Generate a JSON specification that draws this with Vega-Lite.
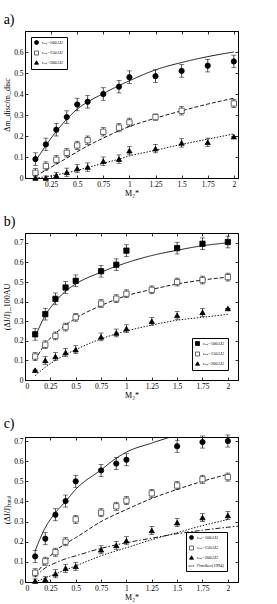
{
"$schema": "https://vega.github.io/schema/vega-lite/v6.json",
"padding": {"left": 3, "top": 12, "right": 2, "bottom": 2},
"spacing": 16,
"datasets": {
"pa": [
{"M":0.1,"v":0.09,"e":0.03,"s":"s1"},{"M":0.2,"v":0.16,"e":0.03,"s":"s1"},{"M":0.3,"v":0.23,"e":0.03,"s":"s1"},{"M":0.4,"v":0.29,"e":0.03,"s":"s1"},{"M":0.5,"v":0.35,"e":0.03,"s":"s1"},{"M":0.6,"v":0.363,"e":0.03,"s":"s1"},{"M":0.75,"v":0.40,"e":0.03,"s":"s1"},{"M":0.9,"v":0.435,"e":0.03,"s":"s1"},{"M":1,"v":0.48,"e":0.03,"s":"s1"},{"M":1.25,"v":0.485,"e":0.03,"s":"s1"},{"M":1.5,"v":0.51,"e":0.03,"s":"s1"},{"M":1.75,"v":0.535,"e":0.03,"s":"s1"},{"M":2,"v":0.555,"e":0.03,"s":"s1"},
{"M":0.1,"v":0.025,"e":0.02,"s":"s2"},{"M":0.2,"v":0.057,"e":0.02,"s":"s2"},{"M":0.3,"v":0.087,"e":0.02,"s":"s2"},{"M":0.4,"v":0.12,"e":0.02,"s":"s2"},{"M":0.5,"v":0.155,"e":0.02,"s":"s2"},{"M":0.6,"v":0.18,"e":0.02,"s":"s2"},{"M":0.75,"v":0.22,"e":0.02,"s":"s2"},{"M":0.9,"v":0.24,"e":0.02,"s":"s2"},{"M":1,"v":0.265,"e":0.02,"s":"s2"},{"M":1.25,"v":0.29,"e":0.015,"s":"s2"},{"M":1.5,"v":0.32,"e":0.02,"s":"s2"},{"M":2,"v":0.355,"e":0.02,"s":"s2"},
{"M":0.1,"v":0.0,"e":0.01,"s":"s3"},{"M":0.2,"v":0.0,"e":0.01,"s":"s3"},{"M":0.3,"v":0.012,"e":0.015,"s":"s3"},{"M":0.4,"v":0.027,"e":0.02,"s":"s3"},{"M":0.5,"v":0.045,"e":0.02,"s":"s3"},{"M":0.6,"v":0.052,"e":0.02,"s":"s3"},{"M":0.75,"v":0.08,"e":0.02,"s":"s3"},{"M":0.9,"v":0.09,"e":0.02,"s":"s3"},{"M":1,"v":0.13,"e":0.02,"s":"s3"},{"M":1.25,"v":0.14,"e":0.02,"s":"s3"},{"M":1.5,"v":0.167,"e":0.02,"s":"s3"},{"M":1.75,"v":0.17,"e":0.02,"s":"s3"},{"M":2,"v":0.197,"e":0.0,"s":"s3"}
],
"ca": [
{"M":0.1,"v":0.08,"s":"s1"},{"M":0.2,"v":0.155,"s":"s1"},{"M":0.3,"v":0.222,"s":"s1"},{"M":0.4,"v":0.28,"s":"s1"},{"M":0.5,"v":0.328,"s":"s1"},{"M":0.6,"v":0.362,"s":"s1"},{"M":0.75,"v":0.402,"s":"s1"},{"M":0.9,"v":0.44,"s":"s1"},{"M":1,"v":0.463,"s":"s1"},{"M":1.25,"v":0.515,"s":"s1"},{"M":1.5,"v":0.55,"s":"s1"},{"M":1.75,"v":0.578,"s":"s1"},{"M":2,"v":0.6,"s":"s1"},
{"M":0.1,"v":0.01,"s":"s2"},{"M":0.2,"v":0.037,"s":"s2"},{"M":0.3,"v":0.066,"s":"s2"},{"M":0.4,"v":0.095,"s":"s2"},{"M":0.5,"v":0.125,"s":"s2"},{"M":0.6,"v":0.153,"s":"s2"},{"M":0.75,"v":0.19,"s":"s2"},{"M":0.9,"v":0.225,"s":"s2"},{"M":1,"v":0.245,"s":"s2"},{"M":1.25,"v":0.285,"s":"s2"},{"M":1.5,"v":0.32,"s":"s2"},{"M":1.75,"v":0.352,"s":"s2"},{"M":2,"v":0.38,"s":"s2"},
{"M":0.1,"v":0.0,"s":"s3"},{"M":0.2,"v":0.006,"s":"s3"},{"M":0.3,"v":0.015,"s":"s3"},{"M":0.4,"v":0.025,"s":"s3"},{"M":0.5,"v":0.036,"s":"s3"},{"M":0.6,"v":0.05,"s":"s3"},{"M":0.75,"v":0.07,"s":"s3"},{"M":0.9,"v":0.09,"s":"s3"},{"M":1,"v":0.105,"s":"s3"},{"M":1.25,"v":0.132,"s":"s3"},{"M":1.5,"v":0.16,"s":"s3"},{"M":1.75,"v":0.185,"s":"s3"},{"M":2,"v":0.21,"s":"s3"}
],
"pb": [
{"M":0.1,"v":0.233,"e":0.03,"s":"b1"},{"M":0.2,"v":0.336,"e":0.03,"s":"b1"},{"M":0.3,"v":0.414,"e":0.03,"s":"b1"},{"M":0.4,"v":0.472,"e":0.03,"s":"b1"},{"M":0.5,"v":0.506,"e":0.03,"s":"b1"},{"M":0.75,"v":0.555,"e":0.03,"s":"b1"},{"M":0.9,"v":0.588,"e":0.03,"s":"b1"},{"M":1,"v":0.66,"e":0.03,"s":"b1"},{"M":1.5,"v":0.673,"e":0.03,"s":"b1"},{"M":1.75,"v":0.695,"e":0.03,"s":"b1"},{"M":2,"v":0.704,"e":0.03,"s":"b1"},
{"M":0.1,"v":0.12,"e":0.02,"s":"s2"},{"M":0.2,"v":0.18,"e":0.02,"s":"s2"},{"M":0.3,"v":0.225,"e":0.02,"s":"s2"},{"M":0.4,"v":0.27,"e":0.02,"s":"s2"},{"M":0.5,"v":0.32,"e":0.02,"s":"s2"},{"M":0.75,"v":0.39,"e":0.02,"s":"s2"},{"M":0.9,"v":0.415,"e":0.02,"s":"s2"},{"M":1,"v":0.44,"e":0.02,"s":"s2"},{"M":1.25,"v":0.46,"e":0.02,"s":"s2"},{"M":1.5,"v":0.50,"e":0.02,"s":"s2"},{"M":1.75,"v":0.51,"e":0.02,"s":"s2"},{"M":2,"v":0.525,"e":0.02,"s":"s2"},
{"M":0.1,"v":0.05,"e":0.0,"s":"s3"},{"M":0.2,"v":0.10,"e":0.02,"s":"s3"},{"M":0.3,"v":0.12,"e":0.02,"s":"s3"},{"M":0.4,"v":0.14,"e":0.02,"s":"s3"},{"M":0.5,"v":0.155,"e":0.02,"s":"s3"},{"M":0.75,"v":0.22,"e":0.02,"s":"s3"},{"M":0.9,"v":0.24,"e":0.02,"s":"s3"},{"M":1,"v":0.262,"e":0.02,"s":"s3"},{"M":1.25,"v":0.30,"e":0.02,"s":"s3"},{"M":1.5,"v":0.33,"e":0.02,"s":"s3"},{"M":1.75,"v":0.345,"e":0.02,"s":"s3"},{"M":2,"v":0.365,"e":0.0,"s":"s3"}
],
"cb": [
{"M":0.1,"v":0.22,"s":"s1"},{"M":0.2,"v":0.33,"s":"s1"},{"M":0.3,"v":0.40,"s":"s1"},{"M":0.4,"v":0.453,"s":"s1"},{"M":0.5,"v":0.49,"s":"s1"},{"M":0.75,"v":0.55,"s":"s1"},{"M":1,"v":0.598,"s":"s1"},{"M":1.25,"v":0.635,"s":"s1"},{"M":1.5,"v":0.662,"s":"s1"},{"M":1.75,"v":0.685,"s":"s1"},{"M":2,"v":0.70,"s":"s1"},
{"M":0.1,"v":0.10,"s":"s2"},{"M":0.2,"v":0.185,"s":"s2"},{"M":0.3,"v":0.237,"s":"s2"},{"M":0.4,"v":0.28,"s":"s2"},{"M":0.5,"v":0.315,"s":"s2"},{"M":0.75,"v":0.38,"s":"s2"},{"M":1,"v":0.43,"s":"s2"},{"M":1.25,"v":0.462,"s":"s2"},{"M":1.5,"v":0.49,"s":"s2"},{"M":1.75,"v":0.51,"s":"s2"},{"M":2,"v":0.525,"s":"s2"},
{"M":0.1,"v":0.022,"s":"s3"},{"M":0.2,"v":0.065,"s":"s3"},{"M":0.3,"v":0.10,"s":"s3"},{"M":0.4,"v":0.13,"s":"s3"},{"M":0.5,"v":0.155,"s":"s3"},{"M":0.75,"v":0.21,"s":"s3"},{"M":1,"v":0.25,"s":"s3"},{"M":1.25,"v":0.28,"s":"s3"},{"M":1.5,"v":0.305,"s":"s3"},{"M":1.75,"v":0.32,"s":"s3"},{"M":2,"v":0.335,"s":"s3"}
],
"pc": [
{"M":0.1,"v":0.127,"e":0.03,"s":"s1"},{"M":0.2,"v":0.215,"e":0.03,"s":"s1"},{"M":0.3,"v":0.334,"e":0.03,"s":"s1"},{"M":0.4,"v":0.402,"e":0.03,"s":"s1"},{"M":0.5,"v":0.50,"e":0.03,"s":"s1"},{"M":0.75,"v":0.554,"e":0.03,"s":"s1"},{"M":0.9,"v":0.588,"e":0.03,"s":"s1"},{"M":1,"v":0.607,"e":0.03,"s":"s1"},{"M":1.5,"v":0.674,"e":0.03,"s":"s1"},{"M":1.75,"v":0.695,"e":0.03,"s":"s1"},{"M":2,"v":0.70,"e":0.03,"s":"s1"},
{"M":0.1,"v":0.046,"e":0.02,"s":"s2"},{"M":0.2,"v":0.103,"e":0.02,"s":"s2"},{"M":0.3,"v":0.148,"e":0.02,"s":"s2"},{"M":0.4,"v":0.20,"e":0.02,"s":"s2"},{"M":0.5,"v":0.311,"e":0.02,"s":"s2"},{"M":0.75,"v":0.344,"e":0.02,"s":"s2"},{"M":0.9,"v":0.376,"e":0.02,"s":"s2"},{"M":1,"v":0.404,"e":0.02,"s":"s2"},{"M":1.25,"v":0.44,"e":0.02,"s":"s2"},{"M":1.5,"v":0.479,"e":0.02,"s":"s2"},{"M":1.75,"v":0.51,"e":0.02,"s":"s2"},{"M":2,"v":0.521,"e":0.02,"s":"s2"},
{"M":0.1,"v":0.005,"e":0.01,"s":"s3"},{"M":0.2,"v":0.013,"e":0.015,"s":"s3"},{"M":0.3,"v":0.041,"e":0.02,"s":"s3"},{"M":0.4,"v":0.068,"e":0.02,"s":"s3"},{"M":0.5,"v":0.078,"e":0.02,"s":"s3"},{"M":0.75,"v":0.16,"e":0.02,"s":"s3"},{"M":0.9,"v":0.182,"e":0.02,"s":"s3"},{"M":1,"v":0.205,"e":0.02,"s":"s3"},{"M":1.25,"v":0.256,"e":0.02,"s":"s3"},{"M":1.5,"v":0.295,"e":0.02,"s":"s3"},{"M":1.75,"v":0.32,"e":0.02,"s":"s3"},{"M":2,"v":0.33,"e":0.02,"s":"s3"}
],
"cc": [
{"M":0.1,"v":0.155,"s":"s1"},{"M":0.2,"v":0.27,"s":"s1"},{"M":0.3,"v":0.344,"s":"s1"},{"M":0.4,"v":0.40,"s":"s1"},{"M":0.5,"v":0.46,"s":"s1"},{"M":0.75,"v":0.557,"s":"s1"},{"M":0.9,"v":0.615,"s":"s1"},{"M":1,"v":0.645,"s":"s1"},{"M":1.25,"v":0.69,"s":"s1"},{"M":1.5,"v":0.73,"s":"s1"},
{"M":0.1,"v":0.035,"s":"s2"},{"M":0.2,"v":0.10,"s":"s2"},{"M":0.3,"v":0.155,"s":"s2"},{"M":0.4,"v":0.19,"s":"s2"},{"M":0.5,"v":0.22,"s":"s2"},{"M":0.75,"v":0.30,"s":"s2"},{"M":1,"v":0.36,"s":"s2"},{"M":1.25,"v":0.415,"s":"s2"},{"M":1.5,"v":0.46,"s":"s2"},{"M":1.75,"v":0.50,"s":"s2"},{"M":2,"v":0.535,"s":"s2"},
{"M":0.1,"v":0.0,"s":"s3"},{"M":0.2,"v":0.02,"s":"s3"},{"M":0.3,"v":0.04,"s":"s3"},{"M":0.4,"v":0.06,"s":"s3"},{"M":0.5,"v":0.08,"s":"s3"},{"M":0.75,"v":0.13,"s":"s3"},{"M":1,"v":0.17,"s":"s3"},{"M":1.25,"v":0.21,"s":"s3"},{"M":1.5,"v":0.245,"s":"s3"},{"M":1.75,"v":0.28,"s":"s3"},{"M":2,"v":0.31,"s":"s3"},
{"M":0.1,"v":0.025,"s":"s4"},{"M":0.2,"v":0.07,"s":"s4"},{"M":0.3,"v":0.095,"s":"s4"},{"M":0.4,"v":0.115,"s":"s4"},{"M":0.5,"v":0.13,"s":"s4"},{"M":0.75,"v":0.167,"s":"s4"},{"M":1,"v":0.195,"s":"s4"},{"M":1.25,"v":0.218,"s":"s4"},{"M":1.5,"v":0.24,"s":"s4"},{"M":1.75,"v":0.257,"s":"s4"},{"M":2,"v":0.272,"s":"s4"},{"M":2.1,"v":0.277,"s":"s4"}
]
},
"vconcat": [
{
"title": {"text": "a)"},
"width": 213, "height": 147,
"resolve": {"axis": {"x": "independent", "y": "independent"}},
"layer": [
{"data": {"name": "ca"}, "mark": {"type": "line", "color": "black", "strokeWidth": 0.9, "interpolate": "monotone", "clip": true},
 "encoding": {
  "x": {"field": "M", "type": "quantitative", "scale": {"domain": [0, 2.04], "nice": false}, "axis": {"values": [0.25,0.5,0.75,1,1.25,1.5,1.75,2], "title": "M₂*"}},
  "y": {"field": "v", "type": "quantitative", "scale": {"domain": [0, 0.7], "nice": false}, "axis": {"values": [0,0.1,0.2,0.3,0.4,0.5,0.6], "title": "Δm_disc/m_disc"}},
  "strokeDash": {"field": "s", "type": "nominal", "scale": {"domain": ["s1","s2","s3","s4"], "range": [[1,0],[4,2],[1.5,1.5],[5,2,1.5,2]]}, "legend": null}
 }},
{"data": {"name": "pa"}, "mark": {"type": "errorbar", "ticks": {"size": 5, "thickness": 0.7, "color": "black"}, "rule": {"strokeWidth": 0.7, "color": "black"}},
 "encoding": {
  "x": {"field": "M", "type": "quantitative", "axis": null},
  "y": {"field": "v", "type": "quantitative", "axis": null},
  "yError": {"field": "e"}
 }},
{"data": {"name": "pa"}, "mark": {"type": "point", "filled": true, "size": 28, "strokeWidth": 0.8, "opacity": 1},
 "encoding": {
  "x": {"field": "M", "type": "quantitative", "axis": {"orient": "top", "values": [0.25,0.5,0.75,1,1.25,1.5,1.75,2], "labels": false, "title": null}},
  "y": {"field": "v", "type": "quantitative", "axis": {"orient": "right", "values": [0,0.1,0.2,0.3,0.4,0.5,0.6], "labels": false, "title": null}},
  "shape": {"field": "s", "type": "nominal", "title": null, "scale": {"domain": ["s1","s2","s3","s4","b1"], "range": ["circle","square","triangle-up","M-1.4,0H-0.5M-0.2,0H0.2M0.5,0H1.4","square"]}, "legend": {"title": null, "orient": "top-left", "offset": 6, "values": ["s1","s2","s3"], "labelExpr": "datum.value=='s2'?'rₒᵤₜ=150AU':datum.value=='s3'?'rₒᵤₜ=200AU':datum.value=='s4'?'Ostriker(1994)':'rₒᵤₜ=100AU'"}},
  "fill": {"field": "s", "type": "nominal", "title": null, "scale": {"domain": ["s1","s2","s3","s4","b1"], "range": ["black","white","black","transparent","black"]}, "legend": {"title": null, "orient": "top-left", "offset": 6, "values": ["s1","s2","s3"], "labelExpr": "datum.value=='s2'?'rₒᵤₜ=150AU':datum.value=='s3'?'rₒᵤₜ=200AU':datum.value=='s4'?'Ostriker(1994)':'rₒᵤₜ=100AU'"}},
  "stroke": {"field": "s", "type": "nominal", "title": null, "scale": {"domain": ["s1","s2","s3","s4","b1"], "range": ["black","#444","black","black","black"]}, "legend": {"title": null, "orient": "top-left", "offset": 6, "values": ["s1","s2","s3"], "labelExpr": "datum.value=='s2'?'rₒᵤₜ=150AU':datum.value=='s3'?'rₒᵤₜ=200AU':datum.value=='s4'?'Ostriker(1994)':'rₒᵤₜ=100AU'"}}
 }}
]
},
{
"title": {"text": "b)"},
"width": 213, "height": 147,
"resolve": {"axis": {"x": "independent", "y": "independent"}},
"layer": [
{"data": {"name": "cb"}, "mark": {"type": "line", "color": "black", "strokeWidth": 0.9, "interpolate": "monotone", "clip": true},
 "encoding": {
  "x": {"field": "M", "type": "quantitative", "scale": {"domain": [0, 2.1], "nice": false}, "axis": {"values": [0,0.25,0.5,0.75,1,1.25,1.5,1.75,2], "title": "M₂*"}},
  "y": {"field": "v", "type": "quantitative", "scale": {"domain": [0, 0.75], "nice": false}, "axis": {"values": [0,0.1,0.2,0.3,0.4,0.5,0.6,0.7], "title": "(ΔJ/J)_100AU"}},
  "strokeDash": {"field": "s", "type": "nominal", "scale": {"domain": ["s1","s2","s3","s4"], "range": [[1,0],[4,2],[1.5,1.5],[5,2,1.5,2]]}, "legend": null}
 }},
{"data": {"name": "pb"}, "mark": {"type": "errorbar", "ticks": {"size": 5, "thickness": 0.7, "color": "black"}, "rule": {"strokeWidth": 0.7, "color": "black"}},
 "encoding": {
  "x": {"field": "M", "type": "quantitative", "axis": null},
  "y": {"field": "v", "type": "quantitative", "axis": null},
  "yError": {"field": "e"}
 }},
{"data": {"name": "pb"}, "mark": {"type": "point", "filled": true, "size": 28, "strokeWidth": 0.8, "opacity": 1},
 "encoding": {
  "x": {"field": "M", "type": "quantitative", "axis": {"orient": "top", "values": [0,0.25,0.5,0.75,1,1.25,1.5,1.75,2], "labels": false, "title": null}},
  "y": {"field": "v", "type": "quantitative", "axis": {"orient": "right", "values": [0,0.1,0.2,0.3,0.4,0.5,0.6,0.7], "labels": false, "title": null}},
  "shape": {"field": "s", "type": "nominal", "title": null, "scale": {"domain": ["s1","s2","s3","s4","b1"], "range": ["circle","square","triangle-up","M-1.4,0H-0.5M-0.2,0H0.2M0.5,0H1.4","square"]}, "legend": {"title": null, "orient": "bottom-right", "offset": 10, "values": ["b1","s2","s3"], "labelExpr": "datum.value=='s2'?'rₒᵤₜ=150AU':datum.value=='s3'?'rₒᵤₜ=200AU':datum.value=='s4'?'Ostriker(1994)':'rₒᵤₜ=100AU'"}},
  "fill": {"field": "s", "type": "nominal", "title": null, "scale": {"domain": ["s1","s2","s3","s4","b1"], "range": ["black","white","black","transparent","black"]}, "legend": {"title": null, "orient": "bottom-right", "offset": 10, "values": ["b1","s2","s3"], "labelExpr": "datum.value=='s2'?'rₒᵤₜ=150AU':datum.value=='s3'?'rₒᵤₜ=200AU':datum.value=='s4'?'Ostriker(1994)':'rₒᵤₜ=100AU'"}},
  "stroke": {"field": "s", "type": "nominal", "title": null, "scale": {"domain": ["s1","s2","s3","s4","b1"], "range": ["black","#444","black","black","black"]}, "legend": {"title": null, "orient": "bottom-right", "offset": 10, "values": ["b1","s2","s3"], "labelExpr": "datum.value=='s2'?'rₒᵤₜ=150AU':datum.value=='s3'?'rₒᵤₜ=200AU':datum.value=='s4'?'Ostriker(1994)':'rₒᵤₜ=100AU'"}}
 }}
]
},
{
"title": {"text": "c)"},
"width": 213, "height": 145,
"resolve": {"axis": {"x": "independent", "y": "independent"}},
"layer": [
{"data": {"name": "cc"}, "mark": {"type": "line", "color": "black", "strokeWidth": 0.9, "interpolate": "monotone", "clip": true},
 "encoding": {
  "x": {"field": "M", "type": "quantitative", "scale": {"domain": [0, 2.1], "nice": false}, "axis": {"values": [0,0.25,0.5,0.75,1,1.25,1.5,1.75,2], "title": "M₂*"}},
  "y": {"field": "v", "type": "quantitative", "scale": {"domain": [0, 0.72], "nice": false}, "axis": {"values": [0,0.1,0.2,0.3,0.4,0.5,0.6,0.7], "title": "(ΔJ/J)ₜₒₜₐₗ"}},
  "strokeDash": {"field": "s", "type": "nominal", "scale": {"domain": ["s1","s2","s3","s4"], "range": [[1,0],[4,2],[1.5,1.5],[5,2,1.5,2]]}, "legend": null}
 }},
{"data": {"name": "pc"}, "mark": {"type": "errorbar", "ticks": {"size": 5, "thickness": 0.7, "color": "black"}, "rule": {"strokeWidth": 0.7, "color": "black"}},
 "encoding": {
  "x": {"field": "M", "type": "quantitative", "axis": null},
  "y": {"field": "v", "type": "quantitative", "axis": null},
  "yError": {"field": "e"}
 }},
{"data": {"name": "pc"}, "mark": {"type": "point", "filled": true, "size": 28, "strokeWidth": 0.8, "opacity": 1},
 "encoding": {
  "x": {"field": "M", "type": "quantitative", "axis": {"orient": "top", "values": [0,0.25,0.5,0.75,1,1.25,1.5,1.75,2], "labels": false, "title": null}},
  "y": {"field": "v", "type": "quantitative", "axis": {"orient": "right", "values": [0,0.1,0.2,0.3,0.4,0.5,0.6,0.7], "labels": false, "title": null}},
  "shape": {"field": "s", "type": "nominal", "title": null, "scale": {"domain": ["s1","s2","s3","s4","b1"], "range": ["circle","square","triangle-up","M-1.4,0H-0.5M-0.2,0H0.2M0.5,0H1.4","square"]}, "legend": {"title": null, "orient": "bottom-right", "offset": 11, "values": ["s1","s2","s3","s4"], "labelExpr": "datum.value=='s2'?'rₒᵤₜ=150AU':datum.value=='s3'?'rₒᵤₜ=200AU':datum.value=='s4'?'Ostriker(1994)':'rₒᵤₜ=100AU'"}},
  "fill": {"field": "s", "type": "nominal", "title": null, "scale": {"domain": ["s1","s2","s3","s4","b1"], "range": ["black","white","black","transparent","black"]}, "legend": {"title": null, "orient": "bottom-right", "offset": 11, "values": ["s1","s2","s3","s4"], "labelExpr": "datum.value=='s2'?'rₒᵤₜ=150AU':datum.value=='s3'?'rₒᵤₜ=200AU':datum.value=='s4'?'Ostriker(1994)':'rₒᵤₜ=100AU'"}},
  "stroke": {"field": "s", "type": "nominal", "title": null, "scale": {"domain": ["s1","s2","s3","s4","b1"], "range": ["black","#444","black","black","black"]}, "legend": {"title": null, "orient": "bottom-right", "offset": 11, "values": ["s1","s2","s3","s4"], "labelExpr": "datum.value=='s2'?'rₒᵤₜ=150AU':datum.value=='s3'?'rₒᵤₜ=200AU':datum.value=='s4'?'Ostriker(1994)':'rₒᵤₜ=100AU'"}}
 }}
]
}
],
"config": {
 "font": "Liberation Serif",
 "background": "white",
 "view": {"stroke": "black", "strokeWidth": 1},
 "title": {"anchor": "start", "frame": "bounds", "fontSize": 14, "fontWeight": "normal", "font": "Liberation Serif", "offset": 4, "color": "black"},
 "axis": {"grid": false, "labelExpr": "'' + datum.value", "labelOverlap": false, "domainColor": "black", "domainWidth": 1, "tickColor": "black", "tickSize": -3, "tickWidth": 0.8, "labelColor": "black", "titleColor": "black", "labelFontSize": 7.5, "titleFontSize": 8, "titleFontWeight": "normal", "labelPadding": 5, "titlePadding": 2, "labelFont": "Liberation Serif", "titleFont": "Liberation Serif"},
 "legend": {"labelFontSize": 4.5, "labelFont": "Liberation Serif", "symbolSize": 16, "rowPadding": 1.5, "padding": 3, "labelOffset": 3, "strokeColor": "black", "symbolStrokeWidth": 0.8, "labelColor": "black"}
}
}
